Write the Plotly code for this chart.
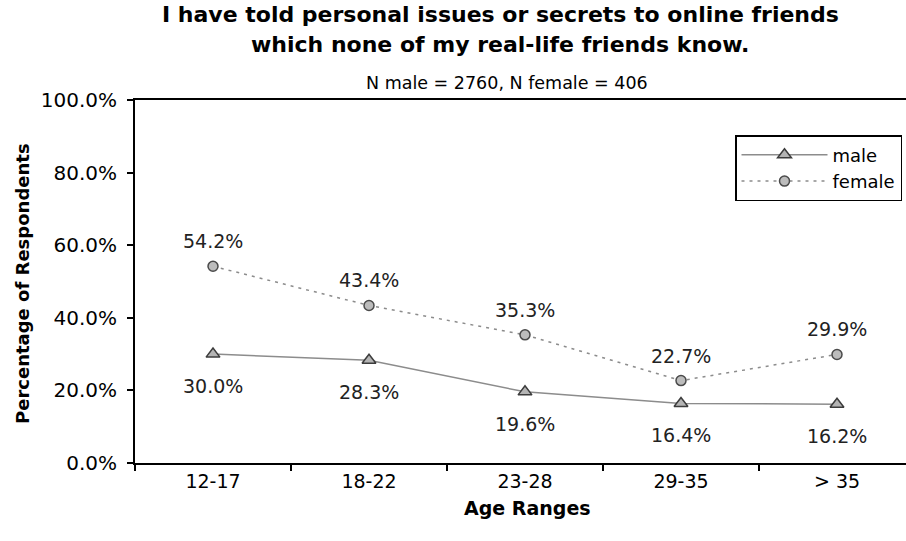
import plotly.graph_objects as go

categories = ["12-17", "18-22", "23-28", "29-35", "> 35"]
male = [30.0, 28.3, 19.6, 16.4, 16.2]
female = [54.2, 43.4, 35.3, 22.7, 29.9]
y_ticks = [0, 20, 40, 60, 80, 100]
y_tick_labels = ["0.0%", "20.0%", "40.0%", "60.0%", "80.0%", "100.0%"]

FONT = "DejaVu Sans"

fig = go.Figure()
fig.add_trace(go.Scatter(
    x=categories, y=male, name="male", mode="lines+markers",
    line=dict(color="#8c8c8c", width=1.5),
    marker=dict(symbol="triangle-up", size=12, color="#b4b4b4",
                line=dict(color="#3c3c3c", width=1.5)),
))
fig.add_trace(go.Scatter(
    x=categories, y=female, name="female", mode="lines+markers",
    line=dict(color="#8c8c8c", width=1.5, dash="3px,5px"),
    marker=dict(symbol="circle", size=10, color="#bcbcbc",
                line=dict(color="#4a4a4a", width=1.5)),
))

annotations = []
for c, v in zip(categories, female):
    annotations.append(dict(x=c, y=v, xref="x", yref="y", text=f"{v:.1f}%",
                            showarrow=False, yshift=25,
                            font=dict(family=FONT, size=19, color="#222")))
for c, v in zip(categories, male):
    annotations.append(dict(x=c, y=v, xref="x", yref="y", text=f"{v:.1f}%",
                            showarrow=False, yshift=-32,
                            font=dict(family=FONT, size=19, color="#222")))

def py(p):
    return (463 - p) / 363.0

def px(p):
    return (p - 135) / 771.0

annotations += [
    dict(x=px(500), y=py(15), xref="paper", yref="paper", showarrow=False,
         text="<b>I have told personal issues or secrets to online friends</b>",
         font=dict(family=FONT, size=22, color="#000"), xanchor="center", yanchor="middle"),
    dict(x=px(500), y=py(45), xref="paper", yref="paper", showarrow=False,
         text="<b>which none of my real-life friends know.</b>",
         font=dict(family=FONT, size=22, color="#000"), xanchor="center", yanchor="middle"),
    dict(x=px(507), y=py(83), xref="paper", yref="paper", showarrow=False,
         text="N male = 2760, N female = 406",
         font=dict(family=FONT, size=17.5, color="#000"), xanchor="center", yanchor="middle"),
    dict(x=px(527), y=py(508), xref="paper", yref="paper", showarrow=False,
         text="<b>Age Ranges</b>",
         font=dict(family=FONT, size=19, color="#000"), xanchor="center", yanchor="middle"),
    dict(x=px(22), y=py(284), xref="paper", yref="paper", showarrow=False,
         text="<b>Percentage of Respondents</b>", textangle=-90,
         font=dict(family=FONT, size=18, color="#000"), xanchor="center", yanchor="middle"),
]

fig.update_layout(
    width=906, height=541,
    margin=dict(l=135, r=0, t=100, b=78, pad=0),
    paper_bgcolor="white", plot_bgcolor="white",
    showlegend=True,
    legend=dict(x=px(735), y=py(135), xanchor="left", yanchor="top",
                bordercolor="#000", borderwidth=1.5, bgcolor="white",
                font=dict(family=FONT, size=18, color="#000"),
                itemwidth=86, tracegroupgap=0),
    annotations=annotations,
    xaxis=dict(type="category", range=[-0.5, 4.5 - 9 / 156.0],
               showline=True, linecolor="#000", linewidth=2, mirror=True,
               ticks="outside", tickson="boundaries", ticklen=6, tickwidth=2, tickcolor="#000",
               showgrid=False, zeroline=False,
               tickfont=dict(family=FONT, size=19, color="#000")),
    yaxis=dict(range=[0, 100], tickvals=y_ticks, ticktext=y_tick_labels,
               showline=True, linecolor="#000", linewidth=2,
               ticks="outside", ticklen=6, tickwidth=2, tickcolor="#000",
               showgrid=False, zeroline=False, ticklabelstandoff=6,
               tickfont=dict(family=FONT, size=20, color="#000")),
    font=dict(family=FONT),
)

fig.write_html("out.html")
